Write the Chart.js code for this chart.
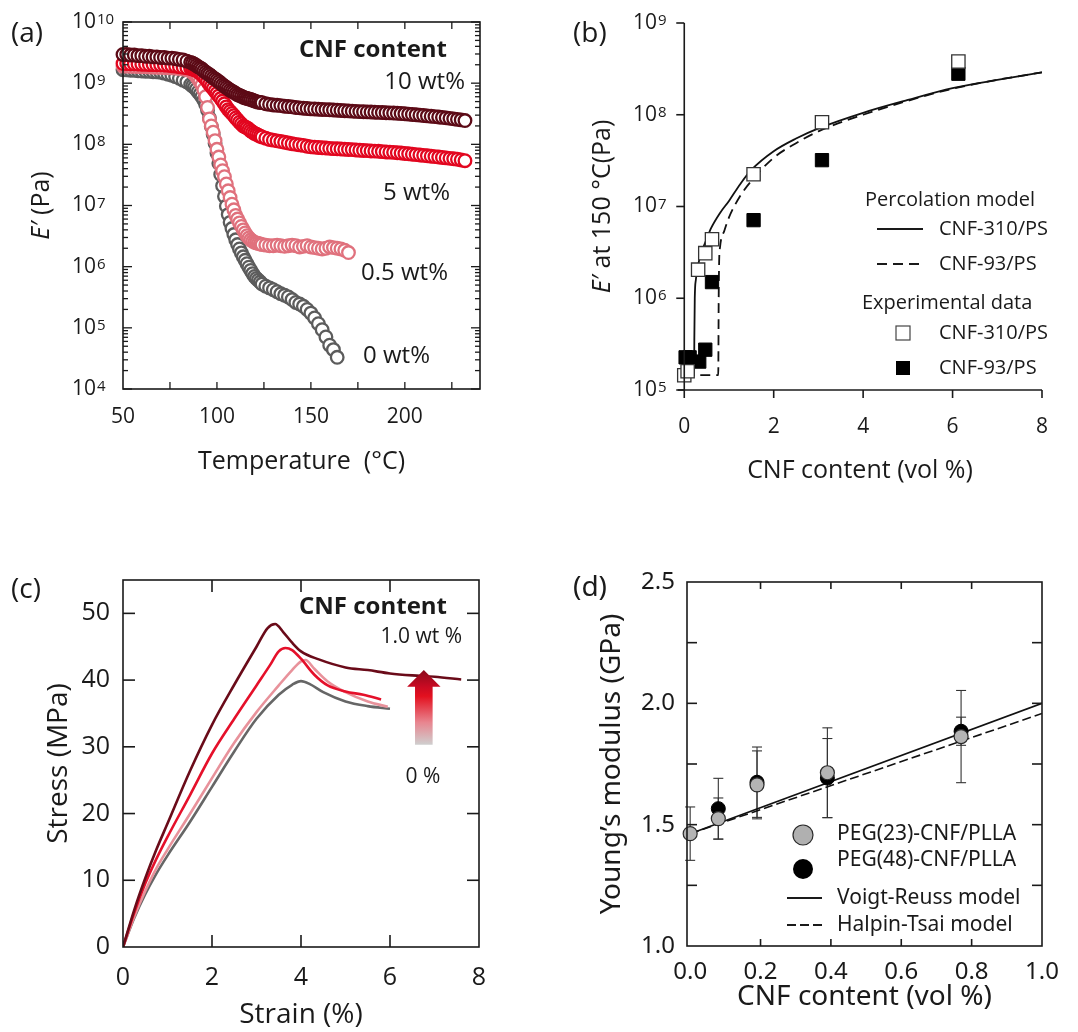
<!DOCTYPE html>
<html><head><meta charset="utf-8">
<script src="https://cdn.jsdelivr.net/npm/chart.js@4/dist/chart.umd.min.js"></script>
<style>
html,body{margin:0;padding:0;background:#fff;}
body{width:1078px;height:1032px;position:relative;overflow:hidden;}
.panel{position:absolute;}
.panel canvas{display:block;}
</style></head><body>
<div class="panel" style="left:0;top:0;width:540px;height:500px"><canvas id="chartA"></canvas></div>
<div class="panel" style="left:540px;top:0;width:538px;height:500px"><canvas id="chartB"></canvas></div>
<div class="panel" style="left:0;top:520px;width:540px;height:512px"><canvas id="chartC"></canvas></div>
<div class="panel" style="left:540px;top:520px;width:538px;height:512px"><canvas id="chartD"></canvas></div>
<script>
// ===================== DATA =====================
// (a) storage modulus E' vs temperature (°C)
const TEMP = [50,52,54,56,58,60,62,64,66,68,70,72,74,76,78,80,82,84,86,
  87,88,89,90,91,92,93,94,95,96,97,98,99,100,101,102,103,104,105,106,107,108,109,110,111,112,113,114,115,116,117,118,119,120,121,122,123,
  124,126,128,130,132,134,136,138,140,142,144,146,148,150,152,154,156,158,160,162,164,166,168,170,172,174,176,178,180,182,184,186,188,190,192,194,196,198,200,202,204,206,208,210,212,214,216,218,220,222,224,226,228,230,232];
const E_10WT = [2.95e9,2.95e9,2.88e9,2.88e9,2.82e9,2.82e9,2.75e9,2.75e9,2.69e9,2.69e9,2.63e9,2.63e9,2.57e9,2.57e9,2.51e9,2.45e9,2.4e9,2.29e9,2.19e9,
  2.12e9,2.04e9,1.95e9,1.86e9,1.78e9,1.7e9,1.6e9,1.51e9,1.44e9,1.38e9,1.3e9,1.23e9,1.17e9,1.12e9,1.06e9,1.0e9,9.4e8,8.9e8,8.5e8,8.1e8,7.7e8,7.4e8,7.1e8,6.8e8,6.5e8,6.3e8,6.1e8,5.9e8,5.75e8,5.6e8,5.5e8,5.4e8,5.25e8,5.1e8,5.0e8,4.9e8,4.85e8,
  4.8e8,4.6e8,4.5e8,4.4e8,
  4.35e8,4.3e8,4.2e8,4.15e8,4.1e8,4.0e8,3.95e8,3.9e8,3.85e8,3.8e8,
  3.78e8,3.75e8,3.72e8,3.7e8,3.67e8,3.64e8,3.61e8,3.58e8,3.55e8,3.52e8,3.49e8,3.46e8,
  3.43e8,3.41e8,3.39e8,3.37e8,3.35e8,3.33e8,3.31e8,3.29e8,3.27e8,3.25e8,3.22e8,3.19e8,3.16e8,
  3.12e8,3.08e8,3.04e8,3.0e8,2.96e8,2.92e8,2.88e8,2.84e8,2.8e8,2.76e8,2.71e8,2.66e8,2.61e8,2.56e8,2.51e8,2.45e8];
const E_5WT = [2.09e9,2.09e9,2.07e9,2.07e9,2.05e9,2.04e9,2.03e9,2.02e9,2.01e9,2.0e9,2.0e9,1.98e9,1.96e9,1.93e9,1.9e9,1.86e9,1.82e9,1.78e9,1.74e9,
  1.7e9,1.66e9,1.61e9,1.55e9,1.47e9,1.38e9,1.28e9,1.17e9,1.06e9,9.5e8,8.8e8,8.1e8,7.4e8,6.8e8,6.2e8,5.6e8,5.1e8,4.6e8,4.1e8,3.7e8,3.45e8,3.2e8,2.95e8,2.7e8,2.5e8,2.3e8,2.15e8,2.0e8,1.93e8,1.86e8,1.76e8,1.66e8,1.58e8,1.51e8,1.46e8,1.41e8,1.36e8,
  1.32e8,1.26e8,1.2e8,1.17e8,
  1.14e8,1.11e8,1.08e8,1.05e8,1.02e8,1.0e8,9.8e7,9.6e7,9.3e7,9.1e7,
  9.0e7,8.9e7,8.8e7,8.7e7,8.6e7,8.5e7,8.45e7,8.4e7,8.3e7,8.25e7,8.2e7,8.1e7,
  8.0e7,7.95e7,7.9e7,7.8e7,7.75e7,7.7e7,7.6e7,7.5e7,7.45e7,7.4e7,7.3e7,7.2e7,7.1e7,
  7.0e7,6.9e7,6.8e7,6.7e7,6.6e7,6.5e7,6.4e7,6.3e7,6.2e7,6.1e7,6.0e7,5.9e7,5.8e7,5.7e7,5.55e7,5.4e7];
const E_05WT = [1.9e9,1.9e9,1.89e9,1.88e9,1.87e9,1.86e9,1.85e9,1.84e9,1.83e9,1.82e9,1.81e9,1.8e9,1.79e9,1.78e9,1.76e9,1.74e9,1.7e9,1.66e9,1.58e9,
  1.5e9,1.41e9,1.3e9,1.17e9,1.05e9,9.3e8,7.8e8,6.0e8,4.0e8,2.6e8,2.0e8,1.58e8,1.15e8,8.3e7,6.2e7,4.6e7,3.7e7,2.95e7,2.25e7,1.74e7,1.35e7,1.05e7,8.5e6,6.9e6,6.0e6,5.2e6,4.55e6,4.0e6,3.55e6,3.2e6,2.95e6,2.75e6,2.6e6,2.5e6,2.45e6,2.4e6,2.35e6,
  2.3e6,2.25e6,2.2e6,2.2e6,
  2.25e6,2.2e6,2.15e6,2.2e6,2.25e6,2.2e6,2.1e6,2.15e6,2.2e6,2.1e6,2.05e6,2.0e6,1.95e6,2.0e6,2.1e6,2.05e6,2.0e6,1.95e6,1.85e6,1.7e6];
const E_0WT = [1.66e9,1.65e9,1.63e9,1.62e9,1.6e9,1.58e9,1.57e9,1.56e9,1.54e9,1.53e9,1.51e9,1.46e9,1.4e9,1.35e9,1.28e9,1.2e9,1.12e9,1.05e9,9.5e8,
  9.0e8,8.5e8,7.9e8,7.2e8,6.6e8,6.0e8,5.3e8,4.5e8,3.6e8,2.7e8,1.95e8,1.45e8,1.04e8,7.2e7,4.9e7,3.2e7,2.1e7,1.41e7,9.8e6,7.1e6,5.3e6,4.2e6,3.35e6,2.75e6,2.3e6,1.95e6,1.68e6,1.45e6,1.27e6,1.12e6,9.8e5,8.7e5,7.7e5,6.9e5,6.4e5,6.0e5,5.6e5,
  5.2e5,4.8e5,4.5e5,4.2e5,
  3.9e5,3.6e5,3.4e5,3.2e5,2.9e5,2.6e5,2.45e5,2.25e5,2.0e5,1.74e5,1.45e5,1.17e5,9.3e4,7.1e4,5.2e4,4.4e4,3.3e4];
const A_X_TICKS = [50,100,150,200];
const A_X_MINOR = [75,100,125,150,175,200,225];
const A_Y_EXP = [4,5,6,7,8,9,10];

// (b) E' at 150 °C vs CNF content (vol %)
const B_VOL_310 = [0, 0.075, 0.31, 0.47, 0.62, 1.55, 3.08, 6.13];
const B_E_310   = [1.45e5, 1.6e5, 2.05e6, 3.1e6, 4.4e6, 2.25e7, 8.3e7, 3.8e8];
const B_VOL_93  = [0.03, 0.12, 0.335, 0.47, 0.62, 1.55, 3.08, 6.13];
const B_E_93    = [2.27e5, 2.27e5, 2.04e5, 2.75e5, 1.5e6, 7.1e6, 3.2e7, 2.8e8];
const B_MOD_310_VOL = [0, 0.22, 0.225, 0.235, 0.26, 0.3, 0.4, 0.5, 0.6, 0.8, 1.0, 1.25, 1.5, 2.0, 2.5, 3.0, 4.0, 5.0, 6.0, 7.0, 8.0];
const B_MOD_310_E   = [1.45e5, 1.45e5, 3.5e5, 1.0e6, 1.6e6, 2.2e6, 3.3e6, 4.4e6, 5.8e6, 8.5e6, 1.15e7, 1.75e7, 2.5e7, 4.0e7, 5.5e7, 7.1e7, 1.05e8, 1.45e8, 1.95e8, 2.4e8, 2.9e8];
const B_MOD_93_VOL  = [0, 0.76, 0.77, 0.78, 0.8, 0.9, 1.0, 1.25, 1.5, 2.0, 2.5, 3.0, 4.0, 5.0, 6.0, 7.0, 8.0];
const B_MOD_93_E    = [1.45e5, 1.45e5, 1.0e6, 2.5e6, 3.6e6, 5.5e6, 7.6e6, 1.3e7, 1.9e7, 3.4e7, 4.9e7, 6.6e7, 1.0e8, 1.42e8, 1.92e8, 2.4e8, 2.9e8];
const B_X_TICKS = [0,2,4,6,8];
const B_Y_EXP = [5,6,7,8,9];

// (c) stress (MPa) vs strain (%)
const C_STRAIN_10 = [0,0.25,0.5,0.75,1.0,1.5,2.0,2.5,3.0,3.25,3.42,3.6,3.8,4.0,4.4,5.0,5.5,6.0,6.5,7.0,7.6];
const C_STRESS_10 = [0,5.5,10.3,14.6,18.5,26.3,33.3,39.3,45,47.8,48.4,47.2,45.6,44.3,43.1,41.9,41.5,41.0,40.7,40.5,40.1];
const C_STRAIN_5  = [0,0.25,0.5,0.75,1.0,1.5,2.0,2.5,3.0,3.3,3.5,3.65,3.8,4.0,4.3,4.6,5.0,5.4,5.8];
const C_STRESS_5  = [0,5.1,9.5,13.2,16.5,22.7,29,34.2,39.2,42.2,44.3,44.8,44.5,43.2,40.8,39.2,38.3,37.8,37.1];
const C_STRAIN_05 = [0,0.25,0.5,0.75,1.0,1.5,2.0,2.5,3.0,3.5,3.8,4.0,4.1,4.3,4.6,5.0,5.5,5.95];
const C_STRESS_05 = [0,4.5,8.4,11.8,14.6,19.9,25.3,30.6,35.2,39.2,41.5,42.8,43,41.7,39.8,38.2,36.8,36];
const C_STRAIN_0  = [0,0.25,0.5,0.75,1.0,1.5,2.0,2.5,3.0,3.5,3.8,4.0,4.2,4.5,5.0,5.5,6.0];
const C_STRESS_0  = [0,4.3,7.9,11.0,13.7,18.7,24,29.3,34.2,37.8,39.3,39.85,39.4,38.2,36.8,36.1,35.7];
const C_X_TICKS = [0,2,4,6,8];
const C_Y_TICKS = [0,10,20,30,40,50];

// (d) Young's modulus (GPa) vs CNF content (vol %)
const D_VOL_23 = [0, 0.08, 0.19, 0.39, 0.77];
const D_E_23   = [1.463, 1.525, 1.664, 1.714, 1.863];
const D_ERR_23 = [0.11, 0.085, 0.14, 0.185, 0.19];
const D_VOL_48 = [0.08, 0.19, 0.39, 0.77];
const D_E_48   = [1.566, 1.675, 1.692, 1.885];
const D_ERR_48 = [0.125, 0.145, 0.163, 0.058];
const D_MODEL_VOL = [0, 1.0];
const D_VOIGT  = [1.463, 2.0];
const D_HALPIN = [1.463, 1.958];
const D_X_TICKS = [0,0.2,0.4,0.6,0.8,1.0];
const D_Y_TICKS = [1.0,1.5,2.0,2.5];
const D_Y_MINOR = [1.25,1.5,1.75,2.0,2.25];

// ===================== HELPERS =====================
const FAM = '"Open Sans", sans-serif';
const FAM_D = '"Noto Sans", sans-serif';
const INK = '#1a1a1a';
Chart.defaults.font.family = FAM;
Chart.defaults.color = INK;
function f(size, weight, style, fam){ return (style||'normal')+' '+(weight||'normal')+' '+size+'px '+(fam||FAM); }
const pts = (xs, ys) => ys.map((y,i)=>({x:xs[i], y:y}));
const fixTicks = vals => s => { s.ticks = vals.map(v=>({value:v})); };
function seg(ctx,x1,y1,x2,y2){ ctx.beginPath(); ctx.moveTo(x1,y1); ctx.lineTo(x2,y2); ctx.stroke(); }
function text(ctx,s,x,y,font,align,color){ ctx.save(); ctx.font=font; ctx.textAlign=align||'left'; ctx.textBaseline='middle'; ctx.fillStyle=color||INK; ctx.fillText(s,x,y); ctx.restore(); }
function rotTitle(ctx, parts, cx, cy){
  ctx.save(); ctx.translate(cx,cy); ctx.rotate(-Math.PI/2);
  let w=0; parts.forEach(p=>{ ctx.font=p.font; p.w=ctx.measureText(p.t).width; w+=p.w; });
  let x=-w/2; ctx.textBaseline='middle'; ctx.textAlign='left'; ctx.fillStyle=INK;
  parts.forEach(p=>{ ctx.font=p.font; ctx.fillText(p.t,x,0); x+=p.w; });
  ctx.restore();
}
function powLabel(ctx, exp, x, y, base, sup){
  ctx.save(); ctx.fillStyle=INK; ctx.textAlign='left';
  ctx.font=f(base); ctx.textBaseline='middle'; ctx.fillText('10',x,y);
  const w=ctx.measureText('10').width;
  ctx.font=f(sup); ctx.textBaseline='alphabetic'; ctx.fillText(String(exp), x+w+1, y+2);
  ctx.restore();
}
const common = {responsive:true, maintainAspectRatio:false, animation:false, devicePixelRatio:1, events:[],
  plugins:{legend:{display:false}, tooltip:{enabled:false}}};

// ===================== (a) =====================
function circ(vals,color){ return {data:pts(TEMP,vals), pointStyle:'circle', pointRadius:6.3, pointBorderWidth:2.3, borderColor:color, backgroundColor:'#ffffff', pointBackgroundColor:'#ffffff', pointBorderColor:color, showLine:false, clip:false}; }
const panelA = {id:'panelA', afterDraw(chart){
  const ctx=chart.ctx, a=chart.chartArea, xs=chart.scales.x, ys=chart.scales.y;
  ctx.save(); ctx.strokeStyle=INK; ctx.lineWidth=1.6;
  ctx.strokeRect(a.left,a.top,a.width,a.height);
  ctx.lineWidth=1.3;
  A_X_MINOR.forEach(v=>{ const px=xs.getPixelForValue(v); seg(ctx,px,a.bottom,px,a.bottom-7); seg(ctx,px,a.top,px,a.top+7); });
  A_Y_EXP.forEach(e=>{ for(let m=1;m<10;m++){ const v=m*Math.pow(10,e); if(v>1.0001e10) break; const py=ys.getPixelForValue(v); const L=(m===1)?9:5; seg(ctx,a.left,py,a.left+L,py); seg(ctx,a.right,py,a.right-L,py); } });
  A_Y_EXP.forEach(e=> powLabel(ctx, e, 72, ys.getPixelForValue(Math.pow(10,e)), 21, 15));
  rotTitle(ctx, [{t:'E\u2032', font:f(25,'normal','italic')},{t:' (Pa)', font:f(25)}], 42, (a.top+a.bottom)/2);
  text(ctx,'CNF content',447,50,f(24,'bold'),'right');
  text(ctx,'10 wt%',465,82,f(24),'right');
  text(ctx,'5 wt%',450,193,f(24),'right');
  text(ctx,'0.5 wt%',448,273,f(24),'right');
  text(ctx,'0 wt%',430,356,f(24),'right');
  text(ctx,'(a)',11,34,f(28),'left');
  ctx.restore();
}};
new Chart(document.getElementById('chartA'), {
  type:'scatter',
  data:{datasets:[circ(E_10WT,'#5c0a16'), circ(E_5WT,'#e2061f'), circ(E_05WT,'#e0717d'), circ(E_0WT,'#5c5c5c')]},
  options:Object.assign({}, common, {
    layout:{padding:{left:123,top:22,right:60,bottom:0}},
    scales:{
      x:{type:'linear', min:50, max:240, afterBuildTicks:fixTicks(A_X_TICKS), afterFit:s=>{s.height=111;},
         grid:{display:false, drawTicks:false}, border:{display:false},
         ticks:{font:{size:21}, color:INK, padding:15, maxRotation:0, autoSkip:false},
         title:{display:true, text:'Temperature  (\u00B0C)', font:{size:25}, color:INK, padding:{top:0,bottom:23}}},
      y:{type:'logarithmic', min:1e4, max:1e10, display:false}
    }
  }),
  plugins:[panelA]
});

// ===================== (b) =====================
const panelB = {id:'panelB', afterDraw(chart){
  const ctx=chart.ctx, a=chart.chartArea, xs=chart.scales.x, ys=chart.scales.y;
  const x0=xs.getPixelForValue(0);
  ctx.save(); ctx.strokeStyle=INK; ctx.lineWidth=1.6;
  seg(ctx,x0,a.top,x0,a.bottom); seg(ctx,a.left,a.bottom,a.right,a.bottom);
  B_Y_EXP.forEach(e=>{ const py=ys.getPixelForValue(Math.pow(10,e)); seg(ctx,x0-8,py,x0,py); powLabel(ctx,e,93,py,21,15); });
  B_X_TICKS.forEach(v=>{ const px=xs.getPixelForValue(v); seg(ctx,px,a.bottom,px,a.bottom+8); });
  rotTitle(ctx, [{t:'E\u2032', font:f(25,'normal','italic')},{t:' at 150 \u00B0C(Pa)', font:f(25)}], 63, (a.top+a.bottom)/2);
  text(ctx,'(b)',33,34,f(28),'left');
  // legend
  const lf=f(20);
  text(ctx,'Percolation model',325,200,lf,'left');
  ctx.lineWidth=2; seg(ctx,337,229,383,229);
  ctx.setLineDash([10,6]); seg(ctx,337,264,385,264); ctx.setLineDash([]);
  text(ctx,'CNF-310/PS',399,229,lf,'left');
  text(ctx,'CNF-93/PS',399,264,lf,'left');
  text(ctx,'Experimental data',322,303,lf,'left');
  ctx.lineWidth=1.2; ctx.fillStyle='#fff'; ctx.strokeStyle='#444';
  ctx.fillRect(356,326,14,14); ctx.strokeRect(356,326,14,14);
  ctx.fillStyle='#000'; ctx.fillRect(356,361,14,14);
  text(ctx,'CNF-310/PS',399,333,lf,'left');
  text(ctx,'CNF-93/PS',399,368,lf,'left');
  ctx.restore();
}};
new Chart(document.getElementById('chartB'), {
  type:'scatter',
  data:{datasets:[
    {data:pts(B_VOL_310,B_E_310), pointStyle:'rect', pointRadius:9.4, pointBackgroundColor:'#fff', pointBorderColor:'#333', pointBorderWidth:1.3, backgroundColor:'#fff', borderColor:'#333', order:0, clip:false},
    {data:pts(B_VOL_93,B_E_93), pointStyle:'rect', pointRadius:9.4, pointBackgroundColor:'#000', pointBorderColor:'#000', pointBorderWidth:1, backgroundColor:'#000', borderColor:'#000', order:1, clip:false},
    {data:pts(B_MOD_310_VOL,B_MOD_310_E), showLine:true, pointRadius:0, borderColor:'#111', borderWidth:1.8, cubicInterpolationMode:'monotone', order:2},
    {data:pts(B_MOD_93_VOL,B_MOD_93_E), showLine:true, pointRadius:0, borderColor:'#111', borderWidth:1.8, borderDash:[10,6], cubicInterpolationMode:'monotone', order:3}
  ]},
  options:Object.assign({}, common, {
    layout:{padding:{left:138,top:23,right:36,bottom:0}},
    scales:{
      x:{type:'linear', min:-0.14, max:8, afterBuildTicks:fixTicks(B_X_TICKS), afterFit:s=>{s.height=110;},
         grid:{display:false, drawTicks:false}, border:{display:false},
         ticks:{font:{size:21}, color:INK, padding:24, maxRotation:0, autoSkip:false},
         title:{display:true, text:'CNF content (vol %)', font:{size:25}, color:INK, padding:{top:0,bottom:14}}},
      y:{type:'logarithmic', min:1e5, max:1e9, display:false}
    }
  }),
  plugins:[panelB]
});

// ===================== (c) =====================
const panelC = {id:'panelC', afterDraw(chart){
  const ctx=chart.ctx, a=chart.chartArea, xs=chart.scales.x, ys=chart.scales.y;
  ctx.save(); ctx.strokeStyle=INK; ctx.lineWidth=1.6;
  ctx.strokeRect(a.left,a.top,a.width,a.height);
  C_X_TICKS.slice(1,-1).forEach(v=>{ const px=xs.getPixelForValue(v); seg(ctx,px,a.bottom,px,a.bottom-12); seg(ctx,px,a.top,px,a.top+12); });
  C_Y_TICKS.slice(1).forEach(v=>{ const py=ys.getPixelForValue(v); seg(ctx,a.left,py,a.left+12,py); seg(ctx,a.right,py,a.right-12,py); });
  // gradient arrow (0 % -> 1.0 wt %)
  const cx=xs.getPixelForValue(6.76), tip=ys.getPixelForValue(41.5), hb=ys.getPixelForValue(39.0), bot=ys.getPixelForValue(30.3);
  const g=ctx.createLinearGradient(0,tip,0,bot);
  g.addColorStop(0,'#8a0a1c'); g.addColorStop(0.22,'#c80a22'); g.addColorStop(0.35,'#e3101f'); g.addColorStop(0.7,'#e8858f'); g.addColorStop(1,'#cfcfcf');
  ctx.fillStyle=g; ctx.beginPath();
  ctx.moveTo(cx,tip); ctx.lineTo(cx+16.7,hb); ctx.lineTo(cx+8.8,hb); ctx.lineTo(cx+8.8,bot); ctx.lineTo(cx-8.8,bot); ctx.lineTo(cx-8.8,hb); ctx.lineTo(cx-16.7,hb); ctx.closePath(); ctx.fill();
  text(ctx,'CNF content',447,87,f(24,'bold'),'right');
  text(ctx,'1.0 wt %',462,117,f(21),'right');
  text(ctx,'0 %',423,257,f(21),'center');
  text(ctx,'(c)',11,70,f(28),'left');
  ctx.restore();
}};
function curve(xs,ys,color){ return {data:pts(xs,ys), showLine:true, pointRadius:0, borderColor:color, borderWidth:2.6, cubicInterpolationMode:'monotone'}; }
new Chart(document.getElementById('chartC'), {
  type:'scatter',
  data:{datasets:[curve(C_STRAIN_10,C_STRESS_10,'#6a0b19'), curve(C_STRAIN_5,C_STRESS_5,'#e5102a'), curve(C_STRAIN_05,C_STRESS_05,'#e8929b'), curve(C_STRAIN_0,C_STRESS_0,'#666666')]},
  options:Object.assign({}, common, {
    layout:{padding:{left:0,top:60,right:61,bottom:0}},
    scales:{
      x:{type:'linear', min:0, max:8, afterBuildTicks:fixTicks(C_X_TICKS), afterFit:s=>{s.height=85;},
         grid:{display:false, drawTicks:false}, border:{display:false},
         ticks:{font:{size:25}, color:INK, padding:16, maxRotation:0, autoSkip:false},
         title:{display:true, text:'Strain (%)', font:{size:28}, color:INK, padding:{top:0,bottom:0}}},
      y:{type:'linear', min:0, max:55, afterBuildTicks:fixTicks(C_Y_TICKS), afterFit:s=>{s.width=123;},
         grid:{display:false, drawTicks:false}, border:{display:false},
         ticks:{font:{size:25}, color:INK, padding:13, autoSkip:false},
         title:{display:true, text:'Stress (MPa)', font:{size:28}, color:INK, padding:{top:42,bottom:0}}}
    }
  }),
  plugins:[panelC]
});

// ===================== (d) =====================
const panelD = {id:'panelD',
  beforeDatasetsDraw(chart){
    const ctx=chart.ctx, xs=chart.scales.x, ys=chart.scales.y;
    ctx.save(); ctx.strokeStyle='#333'; ctx.lineWidth=1.1;
    const bars=(vx,vy,ve)=>vy.forEach((v,i)=>{ const px=xs.getPixelForValue(vx[i]); const t=ys.getPixelForValue(v+ve[i]), b=ys.getPixelForValue(v-ve[i]);
      seg(ctx,px,t,px,b); seg(ctx,px-5,t,px+5,t); seg(ctx,px-5,b,px+5,b); });
    bars(D_VOL_23,D_E_23,D_ERR_23); bars(D_VOL_48,D_E_48,D_ERR_48);
    ctx.restore();
  },
  afterDraw(chart){
    const ctx=chart.ctx, a=chart.chartArea, xs=chart.scales.x, ys=chart.scales.y;
    ctx.save(); ctx.strokeStyle=INK; ctx.lineWidth=1.6;
    ctx.strokeRect(a.left,a.top,a.width,a.height);
    D_X_TICKS.slice(1,-1).forEach(v=>{ const px=xs.getPixelForValue(v); seg(ctx,px,a.bottom,px,a.bottom-7); seg(ctx,px,a.top,px,a.top+7); });
    D_Y_MINOR.forEach(v=>{ const py=ys.getPixelForValue(v); seg(ctx,a.left,py,a.left+10,py); seg(ctx,a.right,py,a.right-10,py); });
    const lf=f(21,'normal','normal',FAM_D);
    ctx.lineWidth=1.2; ctx.strokeStyle='#2a2a2a';
    ctx.fillStyle='#b0b0b0'; ctx.beginPath(); ctx.arc(263,315,10,0,Math.PI*2); ctx.fill(); ctx.stroke();
    ctx.fillStyle='#000'; ctx.beginPath(); ctx.arc(263,349,10,0,Math.PI*2); ctx.fill();
    ctx.strokeStyle=INK; ctx.lineWidth=1.8; seg(ctx,247,378,282,378);
    ctx.setLineDash([9,4]); seg(ctx,247,405,282,405); ctx.setLineDash([]);
    text(ctx,'PEG(23)-CNF/PLLA',297,314,lf,'left');
    text(ctx,'PEG(48)-CNF/PLLA',297,340,lf,'left');
    text(ctx,'Voigt-Reuss model',297,378,lf,'left');
    text(ctx,'Halpin-Tsai model',297,405,lf,'left');
    text(ctx,'(d)',33,68,f(28,'normal','normal',FAM_D),'left');
    ctx.restore();
  }};
new Chart(document.getElementById('chartD'), {
  type:'scatter',
  data:{datasets:[
    {data:pts(D_VOL_23,D_E_23), pointRadius:7, pointBackgroundColor:'#b4b4b4', pointBorderColor:'#2a2a2a', pointBorderWidth:1.2, backgroundColor:'#b4b4b4', borderColor:'#2a2a2a', order:0, clip:false},
    {data:pts(D_VOL_48,D_E_48), pointRadius:7, pointBackgroundColor:'#000', pointBorderColor:'#000', pointBorderWidth:1, backgroundColor:'#000', borderColor:'#000', order:1, clip:false},
    {data:pts(D_MODEL_VOL,D_VOIGT), showLine:true, pointRadius:0, borderColor:'#111', borderWidth:1.6, order:2},
    {data:pts(D_MODEL_VOL,D_HALPIN), showLine:true, pointRadius:0, borderColor:'#111', borderWidth:1.6, borderDash:[9,4], order:3}
  ]},
  options:Object.assign({}, common, {
    layout:{padding:{left:0,top:62,right:36,bottom:0}},
    scales:{
      x:{type:'linear', min:-0.009, max:1.0, afterBuildTicks:fixTicks(D_X_TICKS), afterFit:s=>{s.height=86;},
         grid:{display:false, drawTicks:false}, border:{display:false},
         ticks:{font:{size:24, family:FAM_D}, color:INK, padding:12, maxRotation:0, autoSkip:false, callback:v=>Number(v).toFixed(1)},
         title:{display:true, text:'CNF content (vol %)', font:{size:28, family:FAM_D}, color:INK, padding:{top:0,bottom:18}}},
      y:{type:'linear', min:1.0, max:2.5, afterBuildTicks:fixTicks(D_Y_TICKS), afterFit:s=>{s.width=147;},
         grid:{display:false, drawTicks:false}, border:{display:false},
         ticks:{font:{size:24, family:FAM_D}, color:INK, padding:12, autoSkip:false, callback:v=>Number(v).toFixed(1)},
         title:{display:true, text:'Young\u2019s modulus (GPa)', font:{size:28, family:FAM_D}, color:INK, padding:{top:55,bottom:0}}}
    }
  }),
  plugins:[panelD]
});
</script>
</body></html>
